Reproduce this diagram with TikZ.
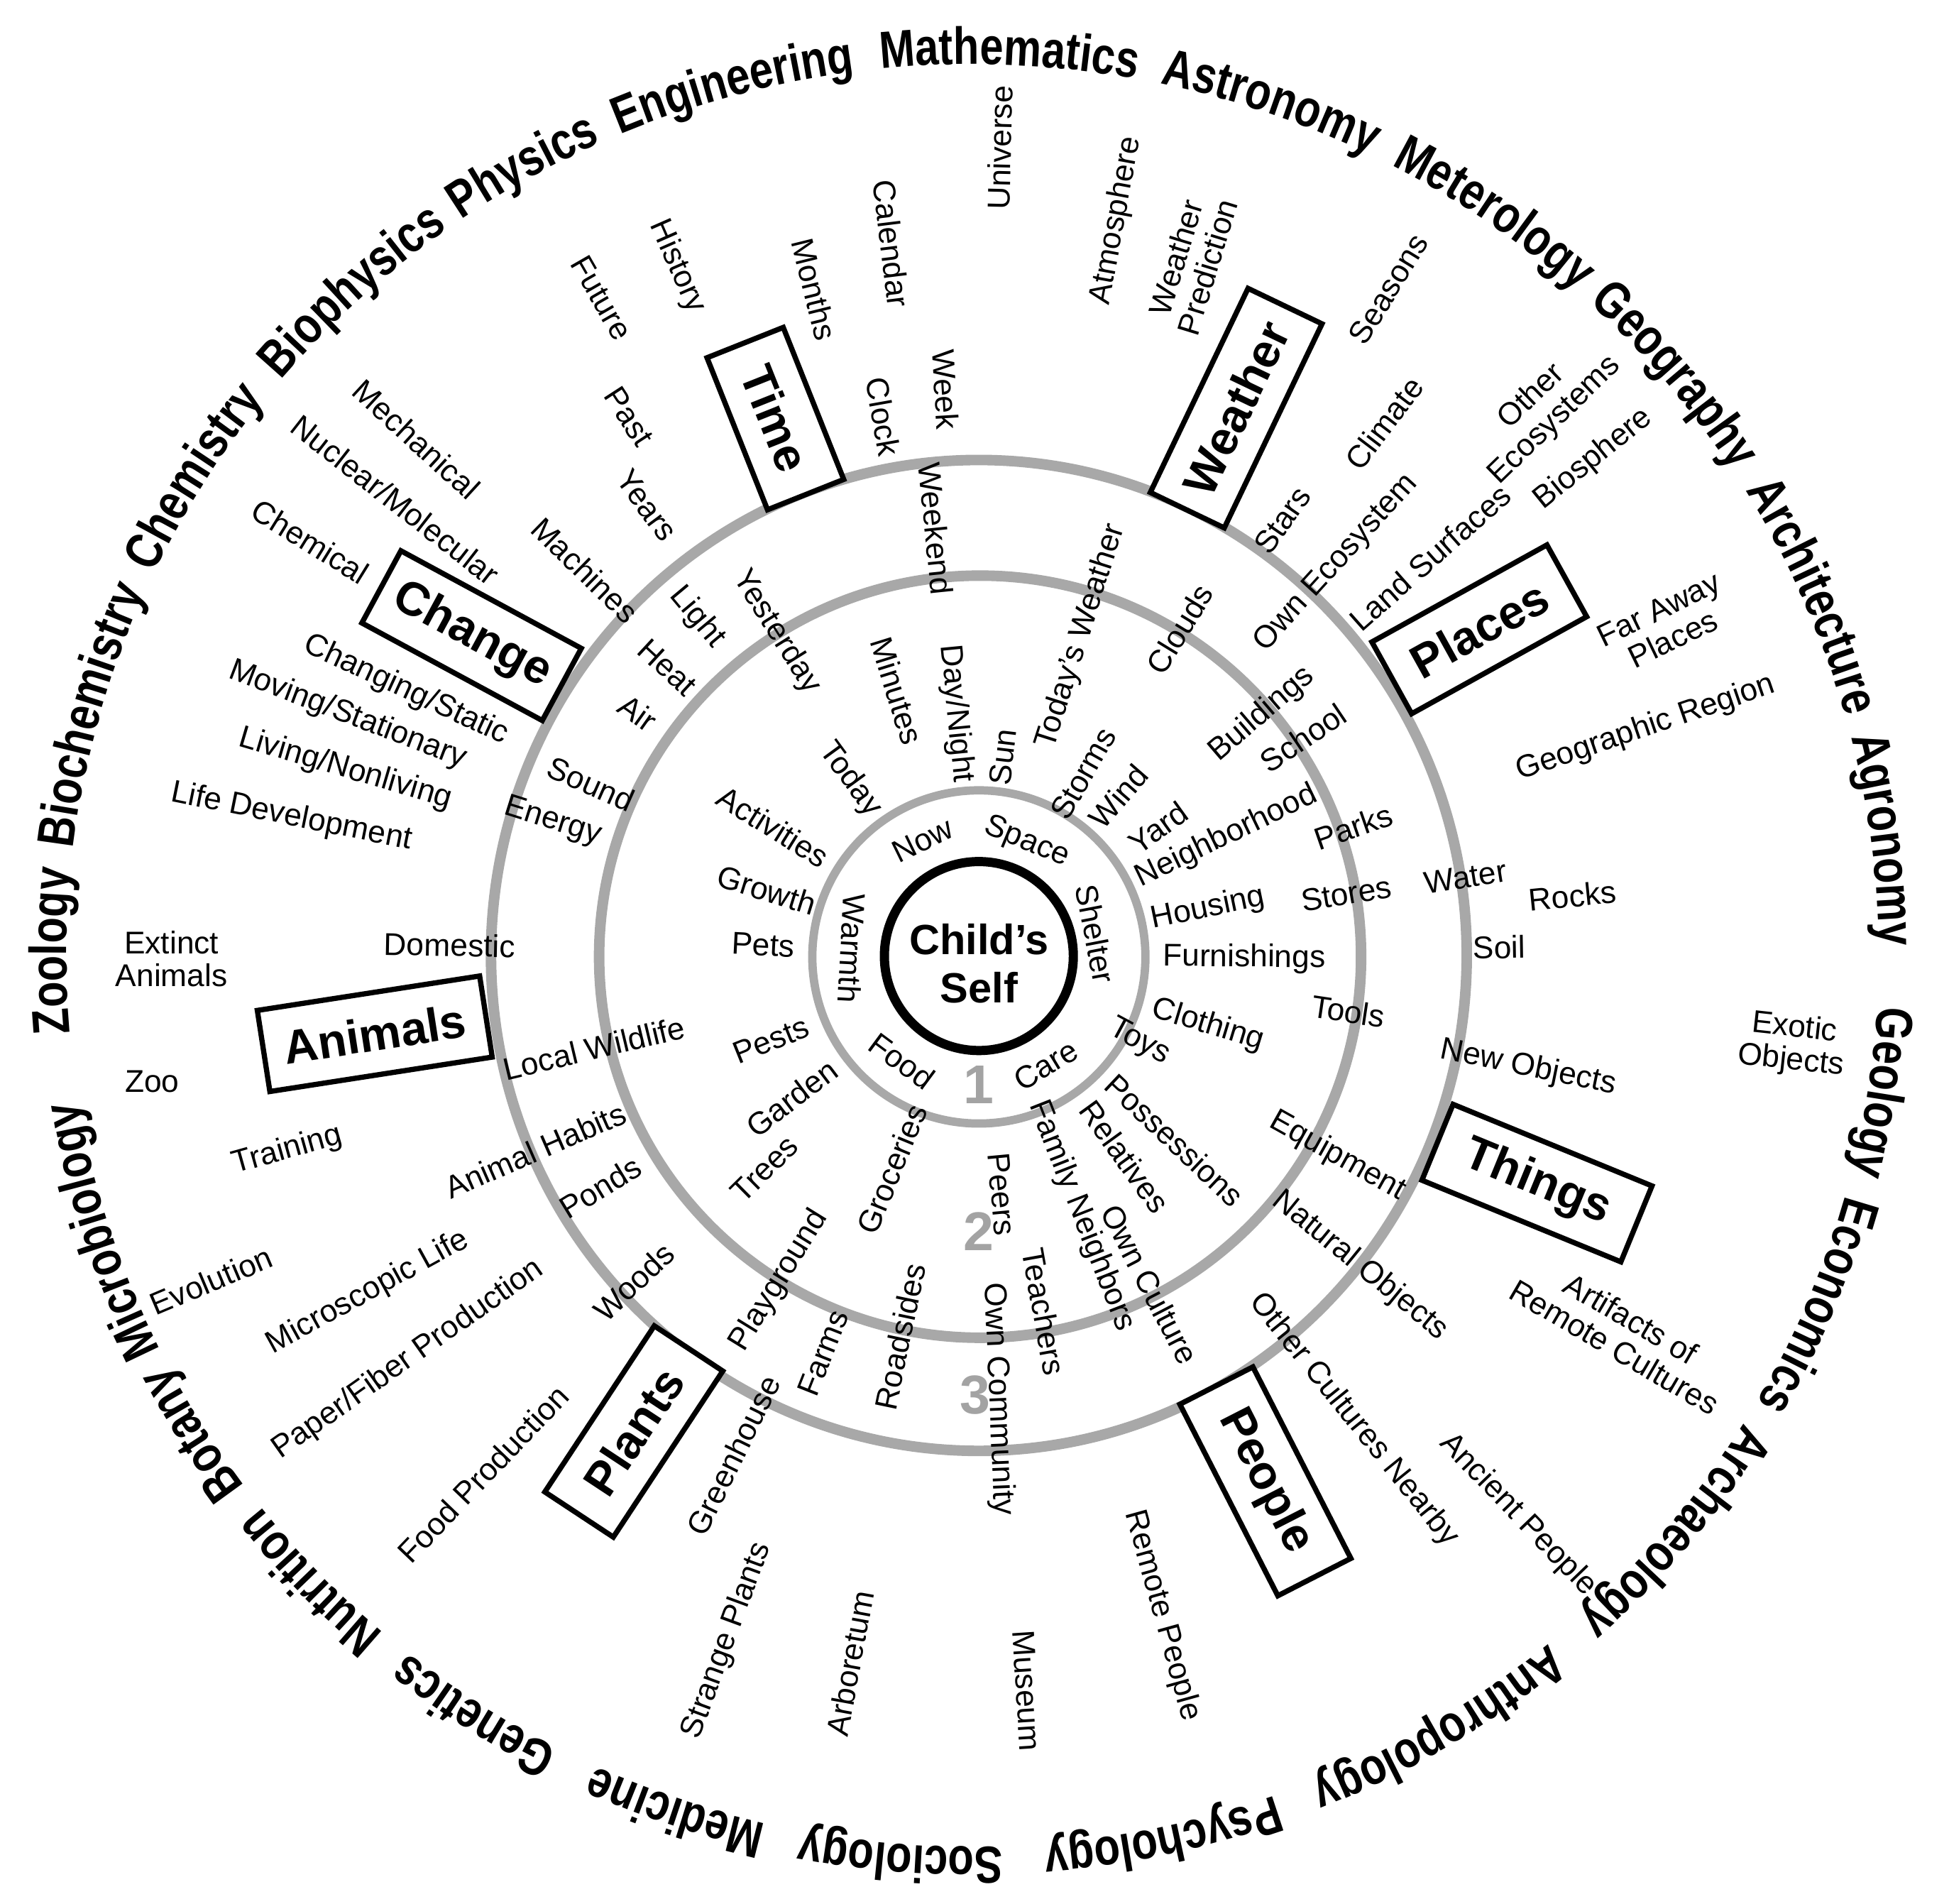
\documentclass[tikz,border=0pt]{standalone}
\usepackage{fontspec}
\setmainfont{Liberation Sans}
\newfontfamily\ringfont{Liberation Sans}[FakeStretch=0.81]
\usetikzlibrary{decorations.text}
\definecolor{ringgray}{HTML}{A8A8A8}
\definecolor{numgray}{HTML}{A3A3A3}
\newcommand\ringfmt{\ringfont\bfseries\fontsize{21}{21}\selectfont}
\tikzset{
  lbl/.style={inner sep=0pt, align=center, font=\fontsize{12.65}{13.25}\selectfont},
  catbox/.style={draw=black, line width=2.1pt, fill=white, inner sep=0pt,
    minimum height=33pt, font=\bfseries\fontsize{19}{19}\selectfont},
  numlab/.style={inner sep=0pt, text=numgray, font=\bfseries\fontsize{22}{22}\selectfont},
  selflab/.style={inner sep=0pt, align=center, font=\bfseries\fontsize{17}{19.25}\selectfont},
  grayring/.style={draw=ringgray, line width=4.25pt}
}
% radial label: name, x, y (image coords), text
\newcommand\lab[4]{%
  \pgfmathsetmacro\labang{atan2(769-(#3),(#2)-788)}%
  \pgfmathsetmacro\labrot{\labang-180*(\labang>90)+180*(\labang<-90)}%
  \node[lbl,rotate=\labrot] (#1) at ({#2},{1531-(#3)}) {#4};}
% tangential label
\newcommand\labt[4]{%
  \pgfmathsetmacro\labang{atan2(769-(#3),(#2)-788)-90}%
  \pgfmathsetmacro\labrot{\labang-180*(\labang>90)+180*(\labang<-90)}%
  \node[lbl,rotate=\labrot] (#1) at ({#2},{1531-(#3)}) {#4};}
% label with explicit rotation
\newcommand\labr[5]{\node[lbl,rotate=#4] (#1) at ({#2},{1531-(#3)}) {#5};}
% category box: name, x, y, rotation, long side, text
\newcommand\boxlab[6]{\node[catbox,rotate=#4,minimum width=#5*0.5pt] (#1) at ({#2},{1531-(#3)}) {#6};}
% outer ring word centred at angle #1
\newcommand\ringword[2]{%
  \path[decorate,decoration={text along path,text align=center,text={|\ringfmt|#2}}]
    ({782.5+729*cos(#1+14)},{762.3+717*sin(#1+14)})
    arc[start angle={#1+14},end angle={#1-14},x radius=729,y radius=717];}
\begin{document}
\begin{tikzpicture}[x=0.5pt,y=0.5pt]
\useasboundingbox (0,0) rectangle (1568,1531);
% rings
\draw[grayring] (787.5,{1531-768.5}) ellipse[x radius=392.5,y radius=398.5];
\draw[grayring] (788.5,{1531-769.5}) circle[radius=306.5];
\draw[draw=ringgray,line width=3.35pt] (787.5,{1531-769.7}) circle[radius=134];
\draw[line width=3.7pt] (787.5,{1531-769}) circle[radius=76];
\node[selflab] (self) at (787.6,{1531-775}) {Child's\\Self};
\node[numlab] (n1) at (787.6,{1531-872.7}) {1};
\node[numlab] (n2) at (787.6,{1531-990.7}) {2};
\node[numlab] (n3) at (784.3,{1531-1121.9}) {3};
% category boxes
\boxlab{time}{623.8}{336.7}{-68.3}{131.6}{Time}
\boxlab{weather}{994.5}{328.3}{64.4}{182}{Weather}
\boxlab{places}{1190.1}{506.2}{29}{161}{Places}
\boxlab{things}{1236.5}{951.6}{-22.3}{173}{Things}
\boxlab{people}{1018}{1191.5}{-62.9}{173}{People}
\boxlab{plants}{509.9}{1151.4}{56.6}{160}{Plants}
\boxlab{animals}{301.5}{831.5}{8.8}{181}{Animals}
\boxlab{change}{379.4}{511.3}{-28.4}{165}{Change}
% inner ring (level 1)
\labt{now}{742.4}{675.7}{Now}
\labt{space}{826.1}{677.4}{Space}
\labt{shelter}{881.4}{751.1}{Shelter}
\labt{care}{841.2}{856.6}{Care}
\labt{food}{725.6}{853.3}{Food}
\labr{warmth}{685.4}{762.8}{-93}{Warmth}
% time
\lab{future}{484}{239.5}{Future}
\lab{history}{544.7}{214.4}{History}
\lab{past}{506}{335}{Past}
\lab{years}{520.4}{406.5}{Years}
\lab{months}{655.3}{232.8}{Months}
\lab{calendar}{717.3}{196}{Calendar}
\lab{universe}{804.4}{118.9}{Universe}
\lab{clock}{710.6}{335}{Clock}
\lab{week}{760.8}{313.2}{Week}
\lab{weekend}{753}{425}{Weekend}
\lab{yesterday}{624.6}{508.3}{Yesterday}
\lab{minutes}{721.6}{555.6}{Minutes}
\lab{daynight}{769}{574}{Day/Night}
\lab{today}{683.8}{627}{Today}
% weather
\lab{atmosphere}{898.2}{177.6}{Atmosphere}
\lab{wpred}{958.5}{211}{Weather\\Prediction}
\lab{seasons}{1116.8}{232.7}{Seasons}
\lab{climate}{1113.4}{340.6}{Climate}
\lab{stars}{1031.8}{418.4}{Stars}
\lab{clouds}{949}{505.9}{Clouds}
\lab{todayw}{869.6}{511.9}{Today's Weather}
\lab{sun}{806.8}{608.9}{Sun}
\lab{storms}{871.4}{622.1}{Storms}
\lab{wind}{899.9}{640.5}{Wind}
% places
\lab{otherecos}{1241.5}{328.8}{Other\\Ecosystems}
\lab{biosphere}{1282}{369.2}{Biosphere}
\lab{ownecos}{1075}{453}{Own Ecosystem}
\lab{landsurf}{1150.5}{448.5}{Land Surfaces}
\lab{faraway}{1340}{502}{Far Away\\Places}
\lab{georegion}{1324.1}{585.8}{Geographic Region}
\lab{buildings}{1015.2}{574.6}{Buildings}
\lab{school}{1048.4}{593.5}{School}
\lab{yard}{931.7}{665.7}{Yard}
\lab{neighborhood}{986.7}{672.9}{Neighborhood}
\lab{parks}{1088.6}{665}{Parks}
\lab{housing}{971.9}{731}{Housing}
\lab{stores}{1083}{719}{Stores}
\lab{water}{1179.1}{705.5}{Water}
\lab{rocks}{1265.1}{720.6}{Rocks}
\lab{soil}{1206.1}{761.8}{Soil}
% things
\lab{furnishings}{1001}{771}{Furnishings}
\lab{tools}{1084.7}{813.4}{Tools}
\lab{clothing}{971.9}{824.8}{Clothing}
\lab{toys}{916.6}{838.2}{Toys}
\lab{newobj}{1229.5}{859}{New Objects}
\lab{exotic}{1442.2}{840.4}{Exotic\\Objects}
\lab{equipment}{1076}{930}{Equipment}
\lab{natobj}{1094}{1018}{Natural Objects}
\lab{artifacts}{1305.6}{1072}{Artifacts of\\Remote Cultures}
\lab{possessions}{945.2}{917}{Possessions}
% people
\lab{relatives}{904.9}{930.3}{Relatives}
\lab{ownculture}{925}{1033}{Own Culture}
\lab{family}{870}{978}{Family Neighbors}
\lab{peers}{806}{960.5}{Peers}
\lab{teachers}{840}{1055}{Teachers}
\lab{othercult}{1089}{1142}{Other Cultures Nearby}
\lab{ancient}{1221.3}{1218.7}{Ancient People}
\lab{remotep}{935}{1299.5}{Remote People}
\lab{museum}{826.1}{1359.8}{Museum}
\lab{owncomm}{802.7}{1125.3}{Own Community}
% plants
\lab{roadsides}{724}{1075}{Roadsides}
\lab{farms}{662}{1088.4}{Farms}
\lab{groceries}{717.3}{940.4}{Groceries}
\lab{playground}{627}{1030}{Playground}
\lab{greenhouse}{590}{1170.5}{Greenhouse}
\lab{strange}{584.9}{1319.6}{Strange Plants}
\lab{arboretum}{683.8}{1338}{Arboretum}
\lab{trees}{615}{940}{Trees}
\lab{garden}{636.9}{883.4}{Garden}
\lab{pests}{620.1}{836.5}{Pests}
\lab{woods}{510}{1031}{Woods}
\lab{ponds}{483}{955}{Ponds}
\lab{foodprod}{388.6}{1185.6}{Food Production}
\lab{paper}{328.4}{1093.5}{Paper/Fiber Production}
\lab{micro}{296}{1039.6}{Microscopic Life}
% animals
\lab{evolution}{169.8}{1030}{Evolution}
\lab{habits}{430.5}{925.3}{Animal Habits}
\lab{wildlife}{478}{843}{Local Wildlife}
\lab{training}{231.2}{925.3}{Training}
\labr{zoo}{122.3}{870}{0}{Zoo}
\labr{extinct}{138}{771.2}{0}{Extinct\\Animals}
\lab{domestic}{361.8}{760.1}{Domestic}
\lab{pets}{614.1}{760.1}{Pets}
\lab{growth}{616.8}{715.9}{Growth}
\lab{activities}{622}{665}{Activities}
% change
\lab{machines}{470.7}{458.6}{Machines}
\lab{light}{560.7}{496.5}{Light}
\lab{heat}{537}{536.7}{Heat}
\lab{air}{513.3}{573.4}{Air}
\lab{sound}{475.5}{630.2}{Sound}
\lab{energy}{444.7}{661}{Energy}
\lab{mechanical}{335}{353.4}{Mechanical}
\lab{nuclear}{318}{402}{Nuclear/Molecular}
\lab{chemical}{249.6}{435.5}{Chemical}
\lab{changing}{326.6}{555.1}{Changing/Static}
\lab{moving}{279.7}{575.2}{Moving/Stationary}
\lab{living}{278}{618.8}{Living/Nonliving}
\lab{lifedev}{234.5}{657.3}{Life Development}
% outer ring of disciplines
\ringword{179.7}{Zoology}
\ringword{164.5}{Biochemistry}
\ringword{148.0}{Chemistry}
\ringword{132.6}{Biophysics}
\ringword{119.3}{Physics}
\ringword{105.2}{Engineering}
\ringword{87.7}{Mathematics}
\ringword{71.0}{Astronomy}
\ringword{55.3}{Meterology}
\ringword{40.0}{Geography}
\ringword{23.5}{Architecture}
\ringword{7.4}{Agronomy}
\ringword{-8.7}{Geology}
\ringword{-22.8}{Economics}
\ringword{-39.8}{Archaeology}
\ringword{-59.3}{Anthropology}
\ringword{-78}{Psychology}
\ringword{-94.5}{Sociology}
\ringword{-108.9}{Medicine}
\ringword{-122.9}{Genetics}
\ringword{-136.2}{Nutrition}
\ringword{-148.1}{Botany}
\ringword{-162.2}{Microbiology}
\end{tikzpicture}
\end{document}
